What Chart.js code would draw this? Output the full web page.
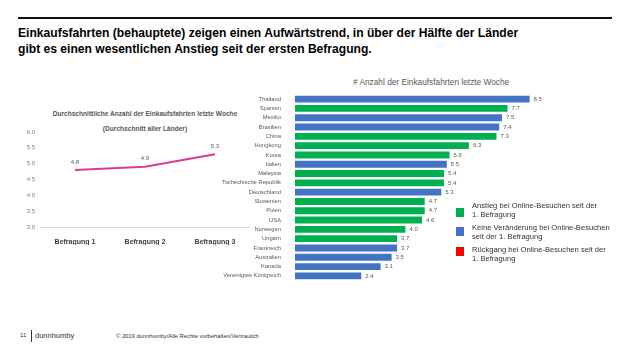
<!DOCTYPE html>
<html><head><meta charset="utf-8">
<script src="https://cdn.jsdelivr.net/npm/chart.js@4"></script>
<style>
html,body{margin:0;padding:0;background:#fff;}
body{width:633px;height:356px;position:relative;overflow:hidden;font-family:"Liberation Sans",Arial,sans-serif;}
.abs{position:absolute;white-space:nowrap;}
#rule{left:18px;top:17px;width:594px;height:2px;background:#111;}
#title{left:18px;top:25px;font-weight:bold;font-size:12.1px;line-height:16px;color:#000;}
#lt1{left:0;width:290px;text-align:center;top:110px;font-weight:bold;font-size:6.6px;color:#595959;}
#lt2{left:0;width:290px;text-align:center;top:125px;font-weight:bold;font-size:6.6px;color:#595959;}
#bt{left:353px;top:77px;font-size:8.3px;color:#595959;}
.sq{position:absolute;width:8px;height:9px;}
.lg{position:absolute;left:472px;font-size:7.6px;line-height:9px;color:#333;}
#f1{left:20px;top:332px;font-size:6px;color:#333;}
#fbar{left:31px;top:330px;width:1px;height:12px;background:#333;}
#f2{left:35px;top:331px;font-size:7.5px;color:#333;}
#f3{left:116px;top:333px;font-size:5.8px;color:#333;}
</style></head>
<body>
<div id="rule" class="abs"></div>
<div id="title" class="abs">Einkaufsfahrten (behauptete) zeigen einen Aufwärtstrend, in über der Hälfte der Länder<br>gibt es einen wesentlichen Anstieg seit der ersten Befragung.</div>
<div id="lt1" class="abs">Durchschnittliche Anzahl der Einkaufsfahrten letzte Woche</div>
<div id="lt2" class="abs">(Durchschnitt aller Länder)</div>
<div id="bt" class="abs"># Anzahl der Einkaufsfahrten letzte Woche</div>
<div class="abs" style="left:0;top:95px;width:262px;height:150px;"><canvas id="lc" width="262" height="150"></canvas></div>
<div class="abs" style="left:200px;top:85px;width:360px;height:205px;"><canvas id="bc" width="360" height="205"></canvas></div>

<div class="sq" style="left:456px;top:208px;background:#00B050;"></div>
<div class="lg" style="top:201px;">Anstieg bei Online-Besuchen seit der<br>1. Befragung</div>
<div class="sq" style="left:456px;top:227px;background:#4472C4;"></div>
<div class="lg" style="top:223px;">Keine Veränderung bei Online-Besuchen<br>seit der 1. Befragung</div>
<div class="sq" style="left:456px;top:247px;background:#FF0000;"></div>
<div class="lg" style="top:245px;">Rückgang bei Online-Besuchen seit der<br>1. Befragung</div>

<div id="f1" class="abs">11</div>
<div id="fbar" class="abs"></div>
<div id="f2" class="abs">dunnhumby</div>
<div id="f3" class="abs">© 2019 dunnhumby/Alle Rechte vorbehalten/Vertraulich</div>

<script>
const waves = ["Befragung 1","Befragung 2","Befragung 3"];
const avgTrips = [4.8, 4.9, 5.3];
const yTicks = [3.0, 3.5, 4.0, 4.5, 5.0, 5.5, 6.0];

const countries = ["Thailand","Spanien","Mexiko","Brasilien","China","Hongkong","Korea","Italien","Malaysia","Tschechische Republik","Deutschland","Slowenien","Polen","USA","Norwegen","Ungarn","Frankreich","Australien","Kanada","Vereinigtes Königreich"];
const trips = [8.5,7.7,7.5,7.4,7.3,6.3,5.6,5.5,5.4,5.4,5.3,4.7,4.7,4.6,4.0,3.7,3.7,3.5,3.1,2.4];
const change = ["none","up","none","none","up","up","up","none","up","up","none","up","up","up","up","up","none","none","none","none"];
const changeColors = {up:"#00B050", none:"#4472C4", down:"#FF0000"};

const FONT = "'Liberation Sans', Arial, sans-serif";

const valueLabels = {
  id:'valueLabels',
  afterDatasetsDraw(chart, args, opts){
    const ctx = chart.ctx;
    ctx.save();
    ctx.font = opts.size + "px " + FONT;
    ctx.fillStyle = "#595959";
    const meta = chart.getDatasetMeta(0);
    meta.data.forEach((el,i)=>{
      const v = chart.data.datasets[0].data[i];
      const t = v.toFixed(1);
      if (opts.mode === 'bar') {
        ctx.textAlign = 'left'; ctx.textBaseline = 'middle';
        ctx.fillText(t, el.x + 4, el.y);
      } else {
        ctx.textAlign = 'center'; ctx.textBaseline = 'bottom';
        ctx.fillText(t, el.x, el.y - 5);
      }
    });
    ctx.restore();
  }
};

new Chart(document.getElementById('lc'), {
  type:'line',
  data:{labels:waves, datasets:[{data:avgTrips, borderColor:"#D63C96", borderWidth:2, pointRadius:0, tension:0, fill:false}]},
  options:{
    responsive:false, animation:false,
    layout:{padding:{left:0,right:12,top:37,bottom:0}},
    plugins:{legend:{display:false}, tooltip:{enabled:false}, valueLabels:{mode:'line', size:6}},
    scales:{
      x:{offset:true, grid:{display:false}, border:{display:false},
         ticks:{font:{family:FONT,size:7,weight:'bold'}, color:"#404040", padding:3, maxRotation:0},
         afterFit(s){ s.height = 18; }},
      y:{min:3, max:6, afterBuildTicks(s){ s.ticks = yTicks.map(v=>({value:v})); },
         grid:{color:(c)=> c.tick && c.tick.value===3 ? "#d9d9d9" : "rgba(0,0,0,0)", drawTicks:false},
         border:{display:false},
         ticks:{font:{family:FONT,size:6}, color:"#7f7f7f", padding:5, callback:(v)=>Number(v).toFixed(1)},
         afterFit(s){ s.width = 40; }}
    }
  },
  plugins:[valueLabels]
});

new Chart(document.getElementById('bc'), {
  type:'bar',
  data:{labels:countries, datasets:[{data:trips, backgroundColor:change.map(c=>changeColors[c]), borderWidth:0, barPercentage:0.74, categoryPercentage:1}]},
  options:{
    indexAxis:'y', responsive:false, animation:false,
    layout:{padding:{left:0,right:16.6,top:7.2,bottom:5.2}},
    plugins:{legend:{display:false}, tooltip:{enabled:false}, valueLabels:{mode:'bar', size:6}},
    scales:{
      x:{display:false, min:0, max:9},
      y:{grid:{display:false}, border:{display:false},
         ticks:{font:{family:FONT,size:5.8}, color:"#595959", padding:6, autoSkip:false},
         afterFit(s){ s.width = 95; }}
    }
  },
  plugins:[valueLabels]
});
</script>
</body></html>
